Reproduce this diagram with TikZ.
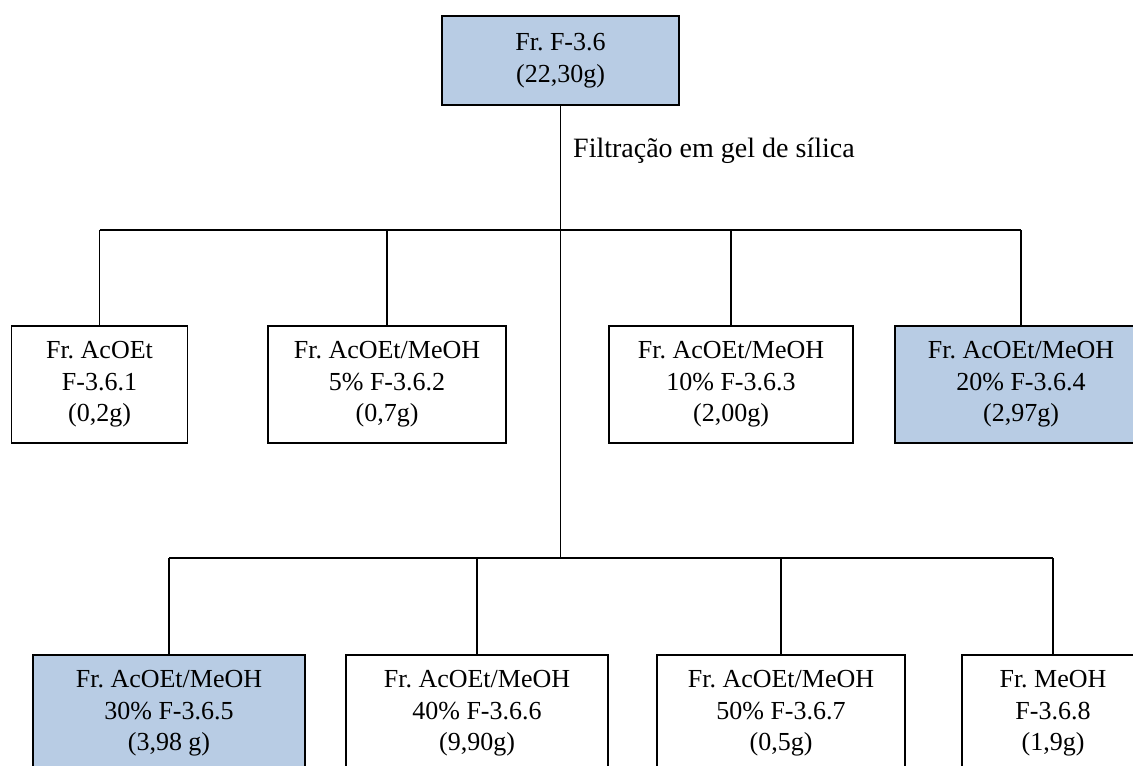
\documentclass[tikz,border=0pt]{standalone}
\usepackage{fontspec}
\setmainfont{Liberation Serif}
\usepackage{tikz}
\usetikzlibrary{positioning}
\definecolor{FracBlue}{HTML}{B8CCE4}
\frenchspacing

\begin{document}
\begin{tikzpicture}[
  x=1pt, y=-1pt,
  frac/.style={draw=black, line width=1.3pt, fill=white, align=center,
    minimum height=117pt, inner sep=0pt, font=\fontsize{26}{31.5}\selectfont},
  chosen/.style={frac, fill=FracBlue},
  link/.style={draw=black, line width=1.2pt}
]
\useasboundingbox (0,0) rectangle (1133,766);
\clip (0,0) rectangle (1133,766);

\node[chosen, minimum width=237pt, minimum height=89pt] (crude) at (560.5,60.5)
  {Fr. F-3.6\\(22,30g)};
\node[anchor=base west, inner sep=0pt, font=\fontsize{28}{32}\selectfont] (filt) at (573,157)
  {Filtração em gel de sílica};

% first group of fractions
\node[frac, minimum width=176pt] (f1) at (99.5,384.5) {Fr. AcOEt\\F-3.6.1\\(0,2g)};
\node[frac, minimum width=238pt] (f2) at (387,384.5) {Fr. AcOEt/MeOH\\5\% F-3.6.2\\(0,7g)};
\node[frac, minimum width=244pt] (f3) at (731,384.5) {Fr. AcOEt/MeOH\\10\% F-3.6.3\\(2,00g)};
\node[chosen, minimum width=252pt] (f4) at (1021,384.5) {Fr. AcOEt/MeOH\\20\% F-3.6.4\\(2,97g)};

% second group of fractions
\node[chosen, minimum width=272pt] (f5) at (169,713.5) {Fr. AcOEt/MeOH\\30\% F-3.6.5\\(3,98 g)};
\node[frac, minimum width=262pt] (f6) at (477,713.5) {Fr. AcOEt/MeOH\\40\% F-3.6.6\\(9,90g)};
\node[frac, minimum width=248pt] (f7) at (781,713.5) {Fr. AcOEt/MeOH\\50\% F-3.6.7\\(0,5g)};
\node[frac, minimum width=182pt] (f8) at (1053,713.5) {Fr. MeOH\\F-3.6.8\\(1,9g)};

\coordinate (split1) at (560.5,230);
\coordinate (split2) at (560.5,558);

\draw[link] (crude.south) -- (split2);
\draw[link] (split1 -| f1.north) -- (split1 -| f4.north);
\draw[link] (split2 -| f5.north) -- (split2 -| f8.north);
\draw[link] (split1 -| f1.north) -- (f1.north);
\draw[link] (split1 -| f2.north) -- (f2.north);
\draw[link] (split1 -| f3.north) -- (f3.north);
\draw[link] (split1 -| f4.north) -- (f4.north);
\draw[link] (split2 -| f5.north) -- (f5.north);
\draw[link] (split2 -| f6.north) -- (f6.north);
\draw[link] (split2 -| f7.north) -- (f7.north);
\draw[link] (split2 -| f8.north) -- (f8.north);
\end{tikzpicture}
\end{document}
